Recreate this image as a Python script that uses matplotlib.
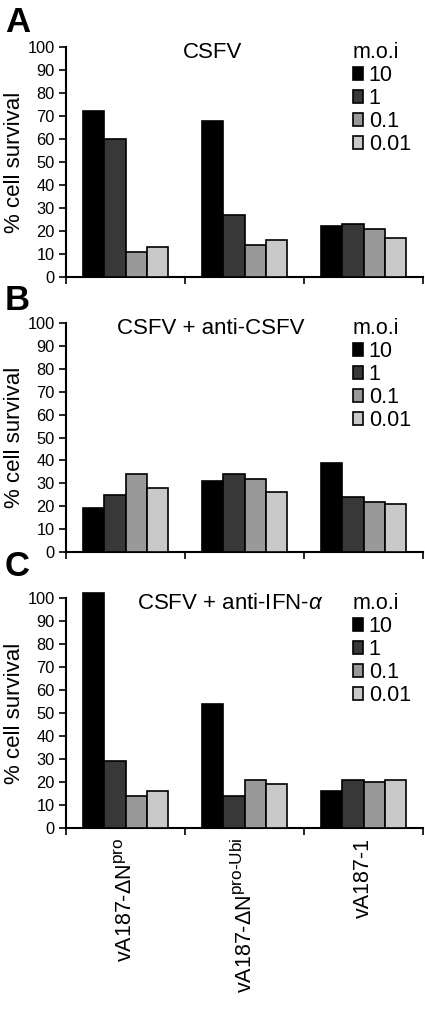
import numpy as np
import matplotlib
matplotlib.use("Agg")
import matplotlib.pyplot as plt
import matplotlib._mathtext as _mt

_mt.SHRINK_FACTOR = 0.8

plt.rcParams['font.family'] = ['Liberation Sans', 'DejaVu Sans']
plt.rcParams['mathtext.fontset'] = 'custom'
plt.rcParams['mathtext.rm'] = 'Liberation Sans'
plt.rcParams['mathtext.it'] = 'Liberation Sans:italic'

viruses = ['vA187-ΔN$^{\\mathrm{pro}}$', 'vA187-ΔN$^{\\mathrm{pro\\text{-}Ubi}}$', 'vA187-1']
moi = ['10', '1', '0.1', '0.01']
panel_letters = ['A', 'B', 'C']
panel_titles = ['CSFV', 'CSFV + anti-CSFV', 'CSFV + anti-IFN-$\\alpha$']

# values per m.o.i (rows) for each virus (columns)
survival_A = [[72, 68, 22], [60, 27, 23], [11, 14, 21], [13, 16, 17]]
survival_B = [[19, 31, 39], [25, 34, 24], [34, 32, 22], [28, 26, 21]]
survival_C = [[102, 54, 16], [29, 14, 21], [14, 21, 20], [16, 19, 21]]
panels = [survival_A, survival_B, survival_C]

colors = ['#000000', '#383838', '#999999', '#c9c9c9']
yticks = list(range(0, 101, 10))

W, H = 425, 1013
fig = plt.figure(figsize=(W / 100, H / 100), dpi=100)

ax_px = [(47, 277), (323, 552), (598, 828)]
title_x = [0.41, 0.405, 0.46]
left, right = 66, 423
letter_y = [22, 300, 566]

bw = 0.18
for i, (data, (top, bot)) in enumerate(zip(panels, ax_px)):
    ax = fig.add_axes([left / W, (H - bot) / H, (right - left) / W, (bot - top) / H])
    x = np.arange(len(viruses))
    for j, (vals, c) in enumerate(zip(data, colors)):
        ax.bar(x + (j - 1.5) * bw, vals, width=bw, color=c, edgecolor='black',
               linewidth=1.2, label=moi[j], clip_on=False, zorder=3)
    ax.set_xlim(-0.5, 2.5)
    ax.set_ylim(0, 100)
    ax.set_yticks(yticks)
    ax.tick_params(axis='y', labelsize=11.8, direction='out', length=5, width=1.2, pad=3)
    ax.set_xticks(x)
    ax.set_xticks(np.arange(-0.5, 2.6, 1.0), minor=True)
    ax.tick_params(axis='x', which='major', length=0, pad=7)
    ax.tick_params(axis='x', which='minor', direction='out', length=5, width=1.2)
    if i == 2:
        ax.set_xticklabels(viruses, rotation=90, fontsize=15.5, va='top', ha='center')
    else:
        ax.set_xticklabels([])
    for s in ['top', 'right']:
        ax.spines[s].set_visible(False)
    for s in ['left', 'bottom']:
        ax.spines[s].set_linewidth(1.5)
    ax.set_ylabel('% cell survival', fontsize=16, labelpad=2)
    ax.text(title_x[i], 0.975, panel_titles[i], transform=ax.transAxes,
            ha='center', va='center', fontsize=16)
    leg = ax.legend(title='m.o.i', loc='upper right', bbox_to_anchor=(0.99, 1.06),
                    frameon=False, fontsize=15.5, title_fontsize=15.5,
                    handlelength=0.5, handleheight=0.55, handletextpad=0.25,
                    labelspacing=0.1, borderaxespad=0, alignment='left')
    fig.text(5 / W, 1 - letter_y[i] / H, panel_letters[i], fontsize=25,
             fontweight='bold', ha='left', va='center')

fig.savefig('out.png', dpi=100)
